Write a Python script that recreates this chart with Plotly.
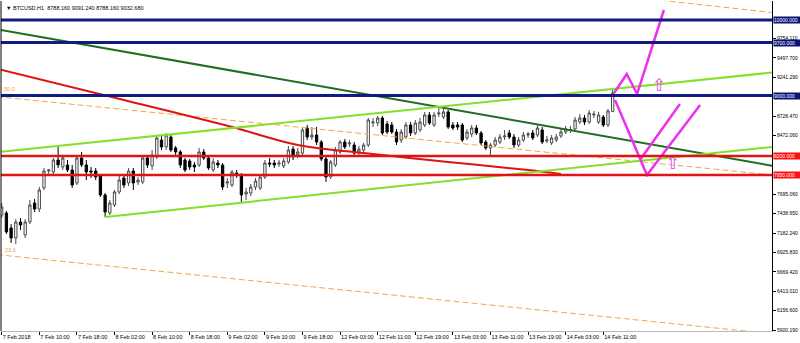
import plotly.graph_objects as go

# ---------------- data ----------------
bar_index = list(range(131))

opens = [7421, 7447, 7249, 7117, 7328, 7156, 7328, 7579, 7500, 7778,
         8002, 7989, 8148, 8055, 8082, 8016, 7844, 8174, 8082, 8002,
         8002, 7936, 7685, 7447, 7553, 7725, 7910, 7844, 8002, 7857,
         7857, 8174, 8069, 8188, 8412, 8320, 8452, 8307, 8254, 8148,
         8135, 8082, 8082, 8254, 8174, 8016, 8108, 8082, 7844, 7817,
         7976, 7950, 7698, 7712, 7791, 7778, 7923, 8108, 8108, 8095,
         8069, 8122, 8293, 8214, 8240, 8571, 8452, 8478, 8386, 8161,
         7923, 8082, 8254, 8386, 8359, 8346, 8254, 8280, 8346, 8637,
         8637, 8703, 8624, 8611, 8518, 8412, 8452, 8611, 8505, 8545,
         8611, 8743, 8611, 8756, 8716, 8783, 8611, 8611, 8611, 8439,
         8492, 8571, 8505, 8386, 8307, 8346, 8386, 8452, 8505, 8452,
         8346, 8412, 8478, 8505, 8478, 8545, 8399, 8373, 8412, 8465,
         8518, 8545, 8558, 8650, 8703, 8650, 8743, 8650, 8716, 8611,
         8788.16]
closes = [7526, 7196, 7117, 7328, 7288, 7328, 7553, 7500, 7751, 8002,
          8016, 8148, 8082, 8174, 8016, 7817, 8174, 8082, 7989, 7989,
          7923, 7685, 7460, 7579, 7725, 7883, 7817, 8002, 7844, 7883,
          8174, 8082, 8214, 8439, 8320, 8478, 8280, 8254, 8082, 8016,
          8055, 8055, 8254, 8174, 8042, 8122, 8082, 7791, 7857, 7989,
          7950, 7685, 7725, 7791, 7870, 7923, 8108, 8095, 8082, 8108,
          8135, 8280, 8188, 8254, 8545, 8452, 8478, 8386, 8161, 7923,
          8122, 8280, 8386, 8320, 8373, 8240, 8293, 8346, 8677, 8650,
          8703, 8505, 8518, 8518, 8386, 8518, 8611, 8505, 8637, 8650,
          8743, 8637, 8743, 8769, 8783, 8584, 8571, 8584, 8412, 8518,
          8571, 8505, 8373, 8307, 8346, 8412, 8452, 8465, 8452, 8346,
          8412, 8478, 8492, 8439, 8571, 8386, 8412, 8439, 8452, 8518,
          8558, 8550, 8677, 8703, 8650, 8769, 8756, 8743, 8611, 8796,
          9032.68]
highs = [7579, 7474, 7302, 7368, 7381, 7368, 7619, 7632, 7791, 8042,
         8029, 8174, 8333, 8214, 8148, 8082, 8201, 8254, 8148, 8055,
         8042, 7963, 7712, 7619, 7751, 7936, 7950, 8042, 8042, 7923,
         8201, 8214, 8280, 8478, 8465, 8505, 8478, 8333, 8280, 8174,
         8161, 8122, 8307, 8293, 8214, 8174, 8148, 8108, 7910, 8016,
         8016, 7976, 7778, 7831, 7910, 7950, 8148, 8174, 8148, 8148,
         8174, 8333, 8333, 8307, 8584, 8611, 8584, 8584, 8412, 8188,
         8148, 8320, 8412, 8426, 8412, 8386, 8333, 8373, 8703, 8703,
         8730, 8730, 8664, 8650, 8558, 8558, 8650, 8650, 8677, 8703,
         8783, 8783, 8783, 8835, 8835, 8809, 8650, 8650, 8637, 8558,
         8611, 8611, 8531, 8412, 8373, 8452, 8492, 8545, 8545, 8492,
         8452, 8518, 8518, 8545, 8611, 8584, 8465, 8478, 8492, 8558,
         8597, 8597, 8716, 8756, 8743, 8809, 8796, 8783, 8743, 8822,
         9091.24]
lows = [7381, 7169, 7051, 7037, 7222, 7117, 7302, 7460, 7460, 7751,
        7963, 7963, 8042, 8016, 7989, 7778, 7817, 8055, 7883, 7910,
        7883, 7659, 7394, 7421, 7526, 7698, 7778, 7804, 7751, 7817,
        7831, 8042, 8016, 8161, 8280, 8280, 8254, 8214, 8042, 7989,
        8016, 7989, 8055, 8148, 8016, 7989, 8042, 7751, 7778, 7791,
        7910, 7593, 7619, 7672, 7751, 7751, 7897, 8055, 8042, 8055,
        8042, 8095, 8148, 8174, 8214, 8412, 8412, 8346, 8135, 7857,
        7897, 8055, 8227, 8293, 8320, 8201, 8214, 8240, 8320, 8584,
        8597, 8478, 8492, 8492, 8346, 8373, 8426, 8465, 8478, 8518,
        8584, 8611, 8584, 8716, 8690, 8558, 8545, 8545, 8386, 8412,
        8452, 8478, 8346, 8280, 8188, 8320, 8359, 8412, 8426, 8307,
        8320, 8386, 8439, 8412, 8452, 8359, 8373, 8346, 8386, 8439,
        8492, 8505, 8545, 8624, 8611, 8624, 8703, 8624, 8584, 8584,
        8788.16]

x_tick_bars = [0, 8, 16, 24, 32, 40, 48, 56, 64, 72, 80, 88, 96, 104, 112, 120, 128]
x_tick_labels = ["7 Feb 2018", "7 Feb 10:00", "7 Feb 18:00", "8 Feb 02:00", "8 Feb 10:00",
                 "8 Feb 18:00", "9 Feb 02:00", "9 Feb 10:00", "9 Feb 18:00", "12 Feb 03:00",
                 "12 Feb 11:00", "12 Feb 19:00", "13 Feb 03:00", "13 Feb 11:00", "13 Feb 19:00",
                 "14 Feb 03:00", "14 Feb 11:00"]

y_tick_vals = [9754.11, 9497.70, 9241.29, 8728.47, 8472.06, 7695.06, 7438.65,
               7182.24, 6925.83, 6669.42, 6413.01, 6156.60, 5900.19]
y_tick_labels = ["9754.110", "9497.700", "9241.290", "8728.470", "8472.060", "7695.060", "7438.650",
                 "7182.240", "6925.830", "6669.420", "6413.010", "6156.600", "5900.190"]

blue_levels = [10000, 9700, 9000]
red_levels = [8200, 7950]

green_trend_x = [-1, 165]
green_trend_y = [9876, 8061]
lime_upper_x = [-1, 165]
lime_upper_y = [8250, 9311]
lime_lower_x = [22, 165]
lime_lower_y = [7394, 8328]
red_curve_x = [-1, 26, 49, 63, 77, 95, 112, 119]
red_curve_y = [9354, 8941, 8584, 8346, 8240, 8122, 8016, 7963]
fib_mid_x = [-1, 165]
fib_mid_y = [8985, 7943]
fib_low_x = [-1, 165]
fib_low_y = [6896, 5844]
fib_top_x = [125, 165]
fib_top_y = [10364, 10090]

path1_x = [130.3, 133.0, 135.2, 140.9]
path1_y = [9034, 9285, 9021, 10131]
path2_x = [130.5, 137.3, 148.6]
path2_y = [8941, 7950, 8875]
path3_x = [135.8, 144.3]
path3_y = [8148, 8888]
arrow_x = [139.9, 142.8]
arrow_y = [9113, 8082]

title_text = "▼ BTCUSD,H1  8788.160 9091.240 8788.160 9032.680"
FONT = "Liberation Sans"

# ---------------- figure ----------------
fig = go.Figure()

fig.add_trace(go.Candlestick(
    x=bar_index, open=opens, high=highs, low=lows, close=closes,
    increasing=dict(line=dict(color="#4a4a4a", width=1), fillcolor="#ffffff"),
    decreasing=dict(line=dict(color="#000000", width=1), fillcolor="#000000"),
    whiskerwidth=0, showlegend=False, hoverinfo="skip"))

def line(x, y, color, width, dash="solid", shape="linear"):
    fig.add_trace(go.Scatter(x=x, y=y, mode="lines", hoverinfo="skip", showlegend=False,
                             line=dict(color=color, width=width, dash=dash, shape=shape)))

line(fib_top_x, fib_top_y, "#f0a848", 1, dash="6px,3px")
line(fib_mid_x, fib_mid_y, "#f0a848", 1, dash="6px,3px")
line(fib_low_x, fib_low_y, "#f0a848", 1, dash="6px,3px")
line(red_curve_x, red_curve_y, "#e01212", 2, shape="spline")
line(green_trend_x, green_trend_y, "#1f6e1f", 2)
line(lime_upper_x, lime_upper_y, "#84e02a", 2)
line(lime_lower_x, lime_lower_y, "#84e02a", 2)
line(path1_x, path1_y, "#ee30ee", 2.5)
line(path2_x, path2_y, "#ee30ee", 2.5)
line(path3_x, path3_y, "#ee30ee", 2.5)

fig.add_trace(go.Scatter(x=arrow_x, y=arrow_y, mode="text", text=["⇧", "⇧"],
                         textfont=dict(color="#f040f0", size=17, family="DejaVu Sans"),
                         hoverinfo="skip", showlegend=False))

shapes = []
annotations = []
for lv in blue_levels:
    shapes.append(dict(type="line", xref="paper", x0=0, x1=1, yref="y", y0=lv, y1=lv,
                       line=dict(color="#111a82", width=3)))
    annotations.append(dict(xref="paper", x=1, xanchor="left", xshift=1, yref="y", y=lv,
                            text=f"{lv:.3f}", showarrow=False, bgcolor="#0a1478",
                            font=dict(color="#ffffff", size=5, family=FONT),
                            width=27, align="left", borderpad=0))
for lv in red_levels:
    shapes.append(dict(type="line", xref="paper", x0=0, x1=1, yref="y", y0=lv, y1=lv,
                       line=dict(color="#e01414", width=2.5)))
    annotations.append(dict(xref="paper", x=1, xanchor="left", xshift=1, yref="y", y=lv,
                            text=f"{lv:.3f}", showarrow=False, bgcolor="#ff1010",
                            font=dict(color="#ffffff", size=5, family=FONT),
                            width=27, align="left", borderpad=0))

# left frame line
shapes.append(dict(type="line", xref="paper", x0=0, x1=0, yref="paper", y0=0, y1=1,
                   line=dict(color="#000000", width=1)))

annotations.append(dict(xref="paper", x=0, xanchor="left", xshift=3, yref="paper", y=1,
                        yanchor="top", yshift=-2, text=title_text, showarrow=False,
                        font=dict(color="#000000", size=5.5, family=FONT)))
annotations.append(dict(xref="paper", x=0, xanchor="left", xshift=1, yref="y", y=9093,
                        text="50.0", showarrow=False,
                        font=dict(color="#f0a040", size=5.5, family=FONT)))
annotations.append(dict(xref="paper", x=0, xanchor="left", xshift=2, yref="y", y=6958,
                        text="23.6", showarrow=False,
                        font=dict(color="#f0a040", size=5.5, family=FONT)))

fig.update_layout(
    width=800, height=343,
    margin=dict(l=1, r=28, t=1, b=12, autoexpand=False),
    paper_bgcolor="#ffffff", plot_bgcolor="#ffffff",
    showlegend=False,
    shapes=shapes, annotations=annotations,
    xaxis=dict(range=[-0.15, 163.9], rangeslider=dict(visible=False),
               tickvals=x_tick_bars, ticktext=x_tick_labels,
               ticklabelposition="outside right", tickangle=0, automargin=False,
               ticks="outside", ticklen=3, tickcolor="#000000",
               showline=True, linecolor="#b8b8b8", linewidth=1,
               showgrid=False, zeroline=False,
               tickfont=dict(size=5.5, color="#000000", family=FONT)),
    yaxis=dict(range=[5887, 10250], side="right", automargin=False,
               tickvals=y_tick_vals, ticktext=y_tick_labels,
               ticks="outside", ticklen=3, tickcolor="#000000",
               showline=True, linecolor="#000000", linewidth=1,
               showgrid=False, zeroline=False,
               tickfont=dict(size=5, color="#000000", family=FONT)),
)

fig.write_html("out.html")
